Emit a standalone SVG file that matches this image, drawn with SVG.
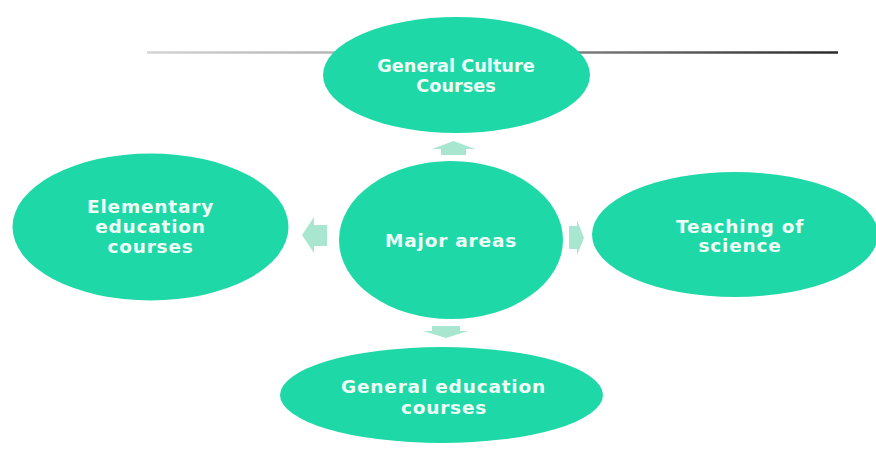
<svg xmlns="http://www.w3.org/2000/svg" width="876" height="449" viewBox="0 0 876 449">
  <defs>
    <linearGradient id="lineGrad" x1="147" y1="0" x2="838" y2="0" gradientUnits="userSpaceOnUse">
      <stop offset="0" stop-color="#d4d4d4"/>
      <stop offset="0.5" stop-color="#9a9a9a"/>
      <stop offset="1" stop-color="#2a2a2a"/>
    </linearGradient>
    <style>
      .node { fill: #1fd8a7; }
      .lbl { font-family: "DejaVu Sans", Verdana, sans-serif; font-weight: bold; font-size: 18.5px; fill: #effdf7; text-anchor: middle; letter-spacing: 0.8px; }
      .lbl-tight { letter-spacing: 0; font-size: 17.7px; }
      .arrow { fill: #a8e6d0; }
    </style>
  </defs>
  <rect width="876" height="449" fill="#ffffff"/>
  <line x1="147" y1="52.5" x2="838" y2="52.5" stroke="url(#lineGrad)" stroke-width="2.5"/>

  <g id="connectors">
    <polygon class="arrow" points="453.5,141 475,149 466,149 466,155 441,155 441,149 432,149"/>
    <polygon class="arrow" points="302,235 314,217 314,225 327,225 327,246 314,246 314,253"/>
    <polygon class="arrow" points="584,238 577,255 577,249 569,249 569,226 577,226 577,220"/>
    <polygon class="arrow" points="446,338 468,331 460,331 460,326 432,326 432,331 423,331"/>
  </g>

  <g id="node-top">
    <ellipse class="node" cx="456.5" cy="75" rx="133.5" ry="58"/>
    <text class="lbl lbl-tight" x="456" y="72">General Culture</text>
    <text class="lbl lbl-tight" x="456" y="92">Courses</text>
  </g>

  <g id="node-center">
    <ellipse class="node" cx="451" cy="240" rx="112" ry="79"/>
    <text class="lbl" x="451" y="247">Major areas</text>
  </g>

  <g id="node-left">
    <ellipse class="node" cx="150.5" cy="227" rx="138" ry="73.5"/>
    <text class="lbl" x="150.5" y="213">Elementary</text>
    <text class="lbl" x="150.5" y="233">education</text>
    <text class="lbl" x="150.5" y="253">courses</text>
  </g>

  <g id="node-right">
    <ellipse class="node" cx="735" cy="234.5" rx="143" ry="62.5"/>
    <text class="lbl" x="740" y="233">Teaching of</text>
    <text class="lbl" x="740" y="252">science</text>
  </g>

  <g id="node-bottom">
    <ellipse class="node" cx="441.5" cy="395" rx="161.5" ry="48"/>
    <text class="lbl" x="443.5" y="393">General education</text>
    <text class="lbl" x="444" y="414">courses</text>
  </g>
</svg>
